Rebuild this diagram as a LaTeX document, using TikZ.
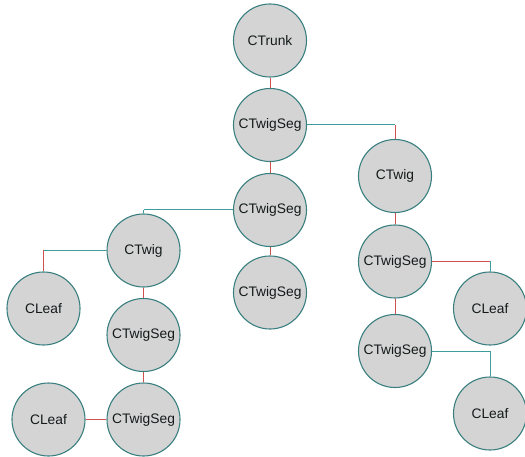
\documentclass[tikz,border=0pt]{standalone}
\usepackage{fontspec}
\setmainfont{Liberation Sans}
\definecolor{nodefill}{HTML}{D4D4D4}
\definecolor{nodeedge}{HTML}{3A7F7F}
\definecolor{hcol}{HTML}{3E9C9C}
\definecolor{vcol}{HTML}{D05050}
\definecolor{txt}{HTML}{141A1A}
\begin{document}
\begin{tikzpicture}[x=1pt,y=-1pt,
  obj/.style={circle,draw=nodeedge,fill=nodefill,line width=1.1pt,minimum size=73pt,inner sep=0pt,
    font=\fontsize{13.8}{14}\selectfont,text=txt},
  hl/.style={draw=hcol,line width=1pt},
  vl/.style={draw=vcol,line width=1pt}]
\useasboundingbox (0,0) rectangle (525,457);
\node[obj] (trunk) at (270,40.5) {CTrunk};
\node[obj] (ts1) at (270,125) {CTwigSeg};
\node[obj] (ts2) at (270,210) {CTwigSeg};
\node[obj] (ts3) at (270,292.5) {CTwigSeg};
\node[obj] (twR) at (395,176) {CTwig};
\node[obj] (tsR1) at (395,261.5) {CTwigSeg};
\node[obj] (leafR1) at (490,308.5) {CLeaf};
\node[obj] (tsR2) at (395,351) {CTwigSeg};
\node[obj] (leafR2) at (490,413.5) {CLeaf};
\node[obj] (twL) at (143.5,250.5) {CTwig};
\node[obj] (leafL1) at (43.5,308.5) {CLeaf};
\node[obj] (tsL1) at (143.5,335) {CTwigSeg};
\node[obj] (tsL2) at (143.5,419.5) {CTwigSeg};
\node[obj] (leafL2) at (48.5,419.5) {CLeaf};
% vertical links
\draw[vl] (trunk) -- (ts1);
\draw[vl] (ts1) -- (ts2);
\draw[vl] (ts2) -- (ts3);
\draw[vl] (twL) -- (tsL1);
\draw[vl] (tsL1) -- (tsL2);
\draw[vl] (twR) -- (tsR1);
\draw[vl] (tsR1) -- (tsR2);
% elbow links
\coordinate (c1) at (ts1.east -| twR.north);
\draw[hl] (ts1.east) -- (c1);
\draw[vl] (c1) -- (twR.north);
\coordinate (c2) at (ts2.west -| twL.north);
\draw[hl] (ts2.west) -- (c2);
\draw[hl] (c2) -- (twL.north);
\coordinate (c3) at (twL.west -| leafL1.north);
\draw[hl] (twL.west) -- (c3);
\draw[vl] (c3) -- (leafL1.north);
\coordinate (c4) at (tsR1.east -| leafR1.north);
\draw[vl] (tsR1.east) -- (c4);
\draw[hl] (c4) -- (leafR1.north);
\coordinate (c5) at (tsR2.east -| leafR2.north);
\draw[hl] (tsR2.east) -- (c5);
\draw[hl] (c5) -- (leafR2.north);
\draw[vl] (leafL2) -- (tsL2);
\end{tikzpicture}
\end{document}
